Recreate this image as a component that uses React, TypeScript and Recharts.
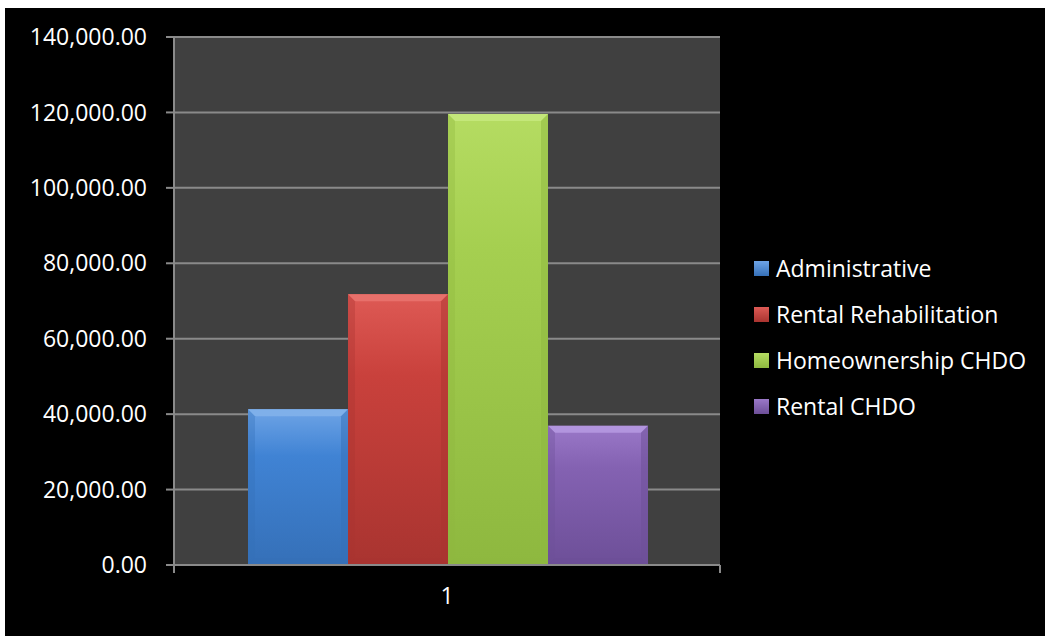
import React from 'react';
import { BarChart, Bar, XAxis, YAxis, CartesianGrid, Legend } from 'recharts';

// values
const categories = ['1'];
const seriesKeys = ['admin', 'rentalRehab', 'homeChdo', 'rentalChdo'];
const seriesNames = ['Administrative', 'Rental Rehabilitation', 'Homeownership CHDO', 'Rental CHDO'];
const administrative = [41300];
const rentalRehabilitation = [71800];
const homeownershipChdo = [119600];
const rentalChdo = [36900];
const yTicks = [0, 20000, 40000, 60000, 80000, 100000, 120000, 140000];

const palette = [
  { top: '#6ea4e6', mid: '#4083d4', bottom: '#3570b8', bevel: '#7fb0ea' },
  { top: '#de5a55', mid: '#c9413c', bottom: '#a93430', bevel: '#e8706b' },
  { top: '#b5dc62', mid: '#a5cf50', bottom: '#8eb83f', bevel: '#c4e77a' },
  { top: '#9a78c8', mid: '#8462b2', bottom: '#6d4f98', bevel: '#b295de' },
];

const data = categories.map((name, i) => ({
  name,
  admin: administrative[i],
  rentalRehab: rentalRehabilitation[i],
  homeChdo: homeownershipChdo[i],
  rentalChdo: rentalChdo[i],
}));

const FONT = '"Open Sans", "DejaVu Sans", sans-serif';
const AXIS = '#8a8a8a';
const TICK_SIZE = 8;
const TICK_MARGIN = 15;

const fmt = (v: number) =>
  v.toLocaleString('en-US', { minimumFractionDigits: 2, maximumFractionDigits: 2 });

function BevelBar(props: any) {
  const { x, y, width, height, idx } = props;
  if (!height || height <= 0) return null;
  const c = palette[idx];
  const b = 7;
  return (
    <g>
      <rect x={x} y={y} width={width} height={height} fill={`url(#grad${idx})`} />
      <polygon
        points={`${x},${y} ${x + width},${y} ${x + width - b},${y + b} ${x + b},${y + b}`}
        fill={c.bevel}
      />
      <polygon
        points={`${x},${y + height} ${x + width},${y + height} ${x + width - b},${y + height - b} ${x + b},${y + height - b}`}
        fill={c.bottom}
        opacity={0.6}
      />
      <polygon
        points={`${x},${y} ${x + b},${y + b} ${x + b},${y + height - b} ${x},${y + height}`}
        fill={c.bottom}
        opacity={0.35}
      />
      <polygon
        points={`${x + width},${y} ${x + width - b},${y + b} ${x + width - b},${y + height - b} ${x + width},${y + height}`}
        fill={c.bottom}
        opacity={0.5}
      />
    </g>
  );
}

// category label plus tick marks at the band edges (Excel style)
function CategoryTick(props: any) {
  const { x, y, payload } = props;
  const half = payload && payload.offset ? payload.offset : 0;
  const axisY = y - TICK_SIZE - TICK_MARGIN;
  return (
    <g>
      <line x1={x - half} x2={x - half} y1={axisY} y2={axisY + TICK_SIZE} stroke={AXIS} strokeWidth={2} />
      <line x1={x + half} x2={x + half} y1={axisY} y2={axisY + TICK_SIZE} stroke={AXIS} strokeWidth={2} />
      <text x={x} y={y} dy="0.71em" textAnchor="middle" fill="#ffffff" fontSize={23} fontFamily={FONT}>
        {payload.value}
      </text>
    </g>
  );
}

function LegendList() {
  return (
    <div style={{ fontFamily: FONT, fontSize: 23, color: '#ffffff' }}>
      {seriesNames.map((n, i) => (
        <div key={n} style={{ display: 'flex', alignItems: 'center', height: 46 }}>
          <span
            style={{
              display: 'inline-block',
              width: 15,
              height: 15,
              marginRight: 7,
              background: `linear-gradient(${palette[i].top}, ${palette[i].bottom})`,
            }}
          />
          <span>{n}</span>
        </div>
      ))}
    </div>
  );
}

export default function App() {
  return (
    <div style={{ position: 'fixed', left: 5, top: 8, width: 1040, height: 628, background: '#000000' }}>
      <BarChart
        width={1040}
        height={628}
        data={data}
        margin={{ top: 29, right: 325, bottom: 31, left: 0 }}
        barCategoryGap={74}
        barGap={0}
      >
        <defs>
          {palette.map((c, i) => (
            <linearGradient key={i} id={`grad${i}`} x1="0" y1="0" x2="0" y2="1">
              <stop offset="0%" stopColor={c.top} />
              <stop offset="30%" stopColor={c.mid} />
              <stop offset="100%" stopColor={c.bottom} />
            </linearGradient>
          ))}
        </defs>
        <CartesianGrid vertical={false} fill="#404040" stroke={AXIS} strokeWidth={2} />
        <XAxis
          dataKey="name"
          height={40}
          axisLine={{ stroke: AXIS, strokeWidth: 2 }}
          tickLine={false}
          tickSize={TICK_SIZE}
          tickMargin={TICK_MARGIN}
          tick={<CategoryTick />}
        />
        <YAxis
          domain={[0, 140000]}
          ticks={yTicks}
          width={169}
          interval={0}
          tickFormatter={fmt}
          axisLine={{ stroke: AXIS, strokeWidth: 2 }}
          tickLine={{ stroke: AXIS, strokeWidth: 2 }}
          tickSize={8}
          tickMargin={19}
          tick={{ fill: '#ffffff', fontSize: 23, fontFamily: FONT }}
        />
        <Legend
          layout="vertical"
          align="center"
          verticalAlign="middle"
          content={() => <LegendList />}
          wrapperStyle={{ position: 'absolute', left: 749, top: 237, width: 290 }}
        />
        {seriesKeys.map((k, i) => (
          <Bar
            key={k}
            dataKey={k}
            name={seriesNames[i]}
            fill={palette[i].mid}
            isAnimationActive={false}
            shape={(p: any) => <BevelBar {...p} idx={i} />}
          />
        ))}
      </BarChart>
    </div>
  );
}
